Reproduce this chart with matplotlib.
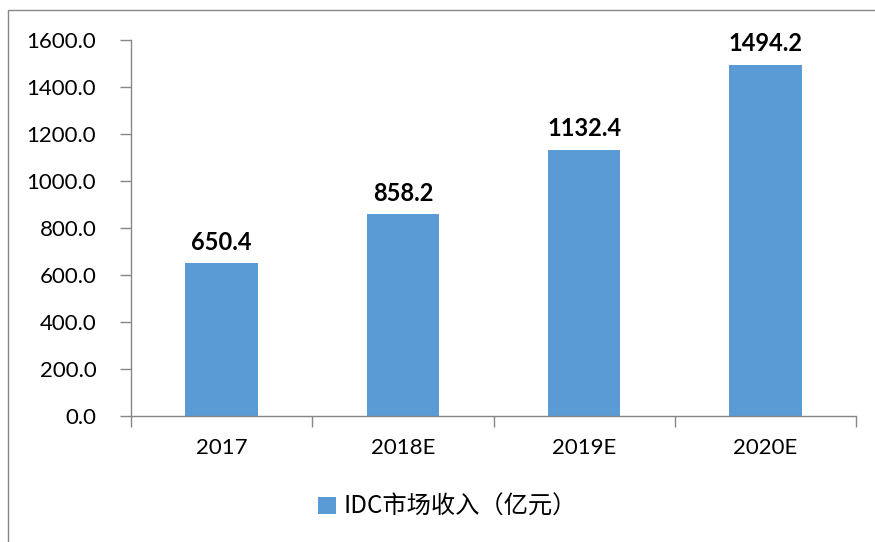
import matplotlib
matplotlib.use("Agg")
import matplotlib.pyplot as plt
from matplotlib.patches import Rectangle

plt.rcParams['font.family'] = ['Lato', 'Noto Sans CJK SC', 'DejaVu Sans']

categories = ["2017", "2018E", "2019E", "2020E"]
values = [650.4, 858.2, 1132.4, 1494.2]
series_name = "IDC市场收入（亿元）"
yticks = [0, 200, 400, 600, 800, 1000, 1200, 1400, 1600]

W, H = 875, 542
fig = plt.figure(figsize=(W / 100, H / 100), dpi=100)
ax = fig.add_axes([131 / W, 1 - 416 / H, (856 - 131) / W, (416 - 40) / H])

color = "#5B9BD5"
x = list(range(len(categories)))
bars = ax.bar(x, values, width=0.4, color=color, label=series_name)
for xi, v in zip(x, values):
    ax.text(xi, v + 40, f"{v:.1f}", ha="center", va="bottom",
            fontsize=17, fontweight="bold")

ax.set_xlim(-0.5, len(categories) - 0.5)
ax.set_ylim(0, 1600)
ax.set_yticks(yticks)
ax.set_yticklabels([f"{t:.1f}" for t in yticks], fontsize=16)
ax.set_xticks(x)
ax.set_xticklabels(categories, fontsize=16)
ax.tick_params(axis="x", length=0, pad=16)
ax.tick_params(axis="y", length=8, width=1, color="#868686", pad=17)
# category boundary ticks
ax.set_xticks([i - 0.5 for i in range(len(categories) + 1)], minor=True)
ax.tick_params(axis="x", which="minor", length=8, width=1, color="#868686")

for s in ["top", "right"]:
    ax.spines[s].set_visible(False)
for s in ["left", "bottom"]:
    ax.spines[s].set_color("#868686")
    ax.spines[s].set_linewidth(1)

leg = fig.legend(handles=[bars], labels=[series_name], loc="center",
                 bbox_to_anchor=(447 / W, 1 - 507 / H), frameon=False,
                 prop={'family': ['Noto Sans CJK SC', 'DejaVu Sans'], 'size': 17.5},
                 handlelength=0.75, handleheight=0.75, handletextpad=0.3)

# figure border
fig.patches.append(Rectangle((8 / W, -0.1), 1.2, 1 - 10 / H + 0.1,
                             transform=fig.transFigure, fill=False,
                             edgecolor="#868686", linewidth=1))

fig.savefig("out.png", dpi=100)
